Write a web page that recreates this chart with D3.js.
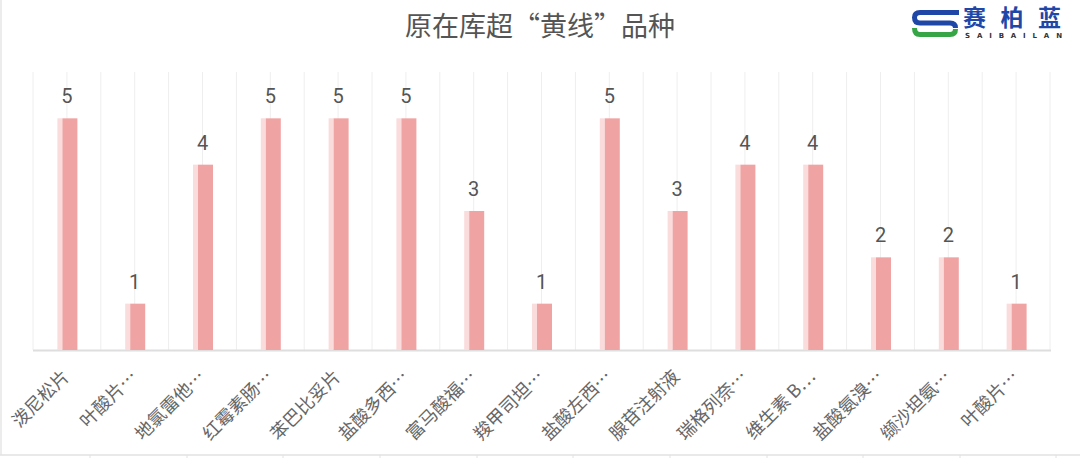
<!DOCTYPE html>
<html>
<head>
<meta charset="utf-8">
<script src="https://cdn.jsdelivr.net/npm/d3@7"></script>
<style>
  html, body { margin: 0; padding: 0; background: #fff; }
  svg { display: block; font-family: "Noto Sans CJK SC", "Noto Sans", sans-serif; }
</style>
</head>
<body>
<svg id="chart" width="1080" height="458"></svg>
<script>
const title = "原在库超“黄线”品种";
const categories = ["泼尼松片", "叶酸片…", "地氯雷他…", "红霉素肠…", "苯巴比妥片", "盐酸多西…", "富马酸福…", "羧甲司坦…", "盐酸左西…", "腺苷注射液", "瑞格列奈…", "维生素 B…", "盐酸氨溴…", "缬沙坦氨…", "叶酸片…"];
const values = [5, 1, 4, 5, 5, 5, 3, 1, 5, 3, 4, 4, 2, 2, 1];
const yDomain = [0, 6];

const svg = d3.select("#chart");
const W = 1080, H = 458;
const m = { left: 33, right: 30, top: 72, bottom: 108 };
const idx = categories.map((c, i) => i);
const x = d3.scaleBand().domain(idx).range([m.left, W - m.right]).padding(0);
const y = d3.scaleLinear().domain(yDomain).range([H - m.bottom, m.top]);
const cx = i => x(i) + x.bandwidth() / 2;

// outer frame pieces
svg.append("line").attr("x1", 1).attr("x2", 1).attr("y1", 0).attr("y2", 455)
  .attr("stroke", "#e6e6e6").attr("stroke-width", 1.5);
svg.append("line").attr("x1", 0).attr("x2", W).attr("y1", 455).attr("y2", 455)
  .attr("stroke", "#e2e2e2").attr("stroke-width", 1.5);
const cellX = [90, 187, 283, 380, 477, 573, 670, 767, 863, 960, 1056];
svg.selectAll(".cell").data(cellX).join("line")
  .attr("x1", d => d).attr("x2", d => d).attr("y1", 455).attr("y2", 458)
  .attr("stroke", "#e2e2e2");

// vertical grid lines at band edges and centres
const gridX = [];
idx.forEach(i => { gridX.push(x(i)); gridX.push(cx(i)); });
gridX.push(x(idx[idx.length - 1]) + x.bandwidth());
svg.selectAll(".grid").data(gridX).join("line")
  .attr("x1", d => d).attr("x2", d => d)
  .attr("y1", y(yDomain[1])).attr("y2", y(0))
  .attr("stroke", "#eeeeee").attr("stroke-width", 1);

// axis line
svg.append("line").attr("x1", m.left).attr("x2", W - m.right + 1)
  .attr("y1", y(0) + 0.5).attr("y2", y(0) + 0.5)
  .attr("stroke", "#dedede").attr("stroke-width", 2);

// bars
const bw = 20, lw = 5;
const bars = svg.selectAll(".bar").data(idx).join("g");
bars.append("rect")
  .attr("x", i => cx(i) - bw / 2 + 0.5)
  .attr("y", i => y(values[i]))
  .attr("width", lw).attr("height", i => y(0) - y(values[i]))
  .attr("fill", "#fadcdc");
bars.append("rect")
  .attr("x", i => cx(i) - bw / 2 + lw + 0.5)
  .attr("y", i => y(values[i]))
  .attr("width", bw - lw).attr("height", i => y(0) - y(values[i]))
  .attr("fill", "#f0a3a3");

// value labels
svg.selectAll(".val").data(idx).join("text")
  .attr("x", i => cx(i))
  .attr("y", i => y(values[i]) - 15)
  .attr("text-anchor", "middle")
  .attr("font-size", 20).attr("fill", "#555")
  .attr("font-family", "Roboto, 'Noto Sans', sans-serif")
  .text(i => values[i]);

// x labels
svg.selectAll(".xl").data(idx).join("text")
  .attr("transform", i => `translate(${cx(i) - 2},${y(0) + 22}) rotate(-45)`)
  .attr("text-anchor", "end").attr("dominant-baseline", "central")
  .attr("font-size", 18).attr("fill", "#666")
  .text(i => categories[i]);

// title
svg.append("text").attr("x", 540).attr("y", 36).attr("text-anchor", "middle")
  .attr("font-size", 27).attr("fill", "#555").text(title);

// logo
const logo = svg.append("g");
logo.append("path").attr("d", "M959,12.5 H920 Q914.5,12.5 914.5,17.5 Q914.5,23 920,23 H950 Q955.5,23 955.5,28")
  .attr("fill", "none").attr("stroke", "#1f47a8").attr("stroke-width", 5);
logo.append("path").attr("d", "M914.5,28 Q914.5,34.5 920,34.5 H950 Q955.5,34.5 955.5,29")
  .attr("fill", "none").attr("stroke", "#35a546").attr("stroke-width", 5);
logo.append("text").attr("x", 963).attr("y", 26).attr("font-size", 23).attr("font-weight", "bold")
  .attr("fill", "#1f47a8").attr("textLength", 98).attr("lengthAdjust", "spacing").text("赛柏蓝");
logo.append("text").attr("x", 965).attr("y", 37.5).attr("font-size", 7).attr("font-weight", "bold")
  .attr("font-family", "'DejaVu Sans', sans-serif")
  .attr("fill", "#333").attr("textLength", 97).attr("lengthAdjust", "spacing").text("SAIBAILAN");
</script>
</body>
</html>
